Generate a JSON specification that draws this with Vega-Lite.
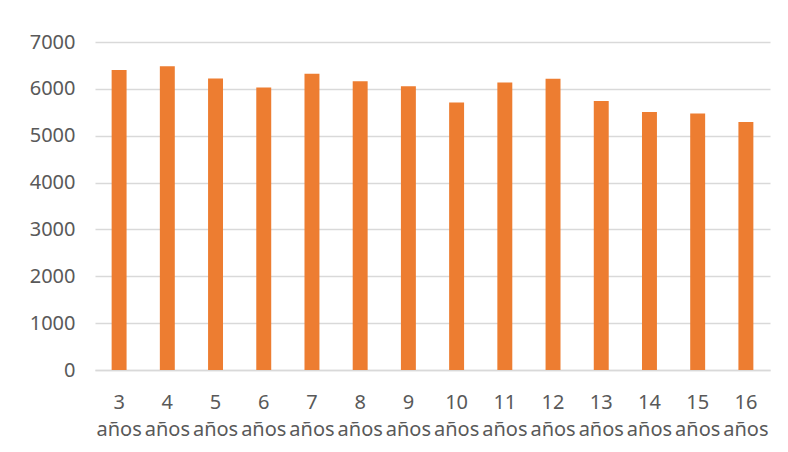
{
  "$schema": "https://vega.github.io/schema/vega-lite/v6.json",
  "width": 675,
  "height": 328,
  "autosize": {"type": "none"},
  "padding": {"left": 95, "top": 42, "right": 18, "bottom": 82},
  "background": "white",
  "data": {
    "values": [
      {"edad": "3 años", "valor": 6405},
      {"edad": "4 años", "valor": 6485},
      {"edad": "5 años", "valor": 6222},
      {"edad": "6 años", "valor": 6030},
      {"edad": "7 años", "valor": 6320},
      {"edad": "8 años", "valor": 6165},
      {"edad": "9 años", "valor": 6058},
      {"edad": "10 años", "valor": 5710},
      {"edad": "11 años", "valor": 6137},
      {"edad": "12 años", "valor": 6214},
      {"edad": "13 años", "valor": 5743},
      {"edad": "14 años", "valor": 5508},
      {"edad": "15 años", "valor": 5473},
      {"edad": "16 años", "valor": 5293}
    ]
  },
  "mark": {"type": "bar", "color": "#ED7D31"},
  "encoding": {
    "x": {
      "field": "edad",
      "type": "nominal",
      "sort": null,
      "scale": {"paddingInner": 0.69, "paddingOuter": 0.345},
      "axis": {
        "title": null,
        "labelAngle": 0,
        "labelExpr": "split(datum.label, ' ')",
        "labelLineHeight": 27,
        "labelPadding": 22,
        "labelFont": "Noto Sans",
        "labelFontSize": 20,
        "labelColor": "#595959",
        "ticks": false,
        "domainColor": "#d9d9d9",
        "domainWidth": 1.5,
        "grid": false
      }
    },
    "y": {
      "field": "valor",
      "type": "quantitative",
      "scale": {"domain": [0, 7000], "nice": false},
      "axis": {
        "title": null,
        "format": "d",
        "values": [0, 1000, 2000, 3000, 4000, 5000, 6000, 7000],
        "labelFont": "Noto Sans",
        "labelFontSize": 20,
        "labelColor": "#595959",
        "labelPadding": 20,
        "ticks": false,
        "domain": false,
        "gridColor": "#d9d9d9",
        "gridWidth": 1.5
      }
    }
  },
  "config": {"view": {"stroke": null}}
}
